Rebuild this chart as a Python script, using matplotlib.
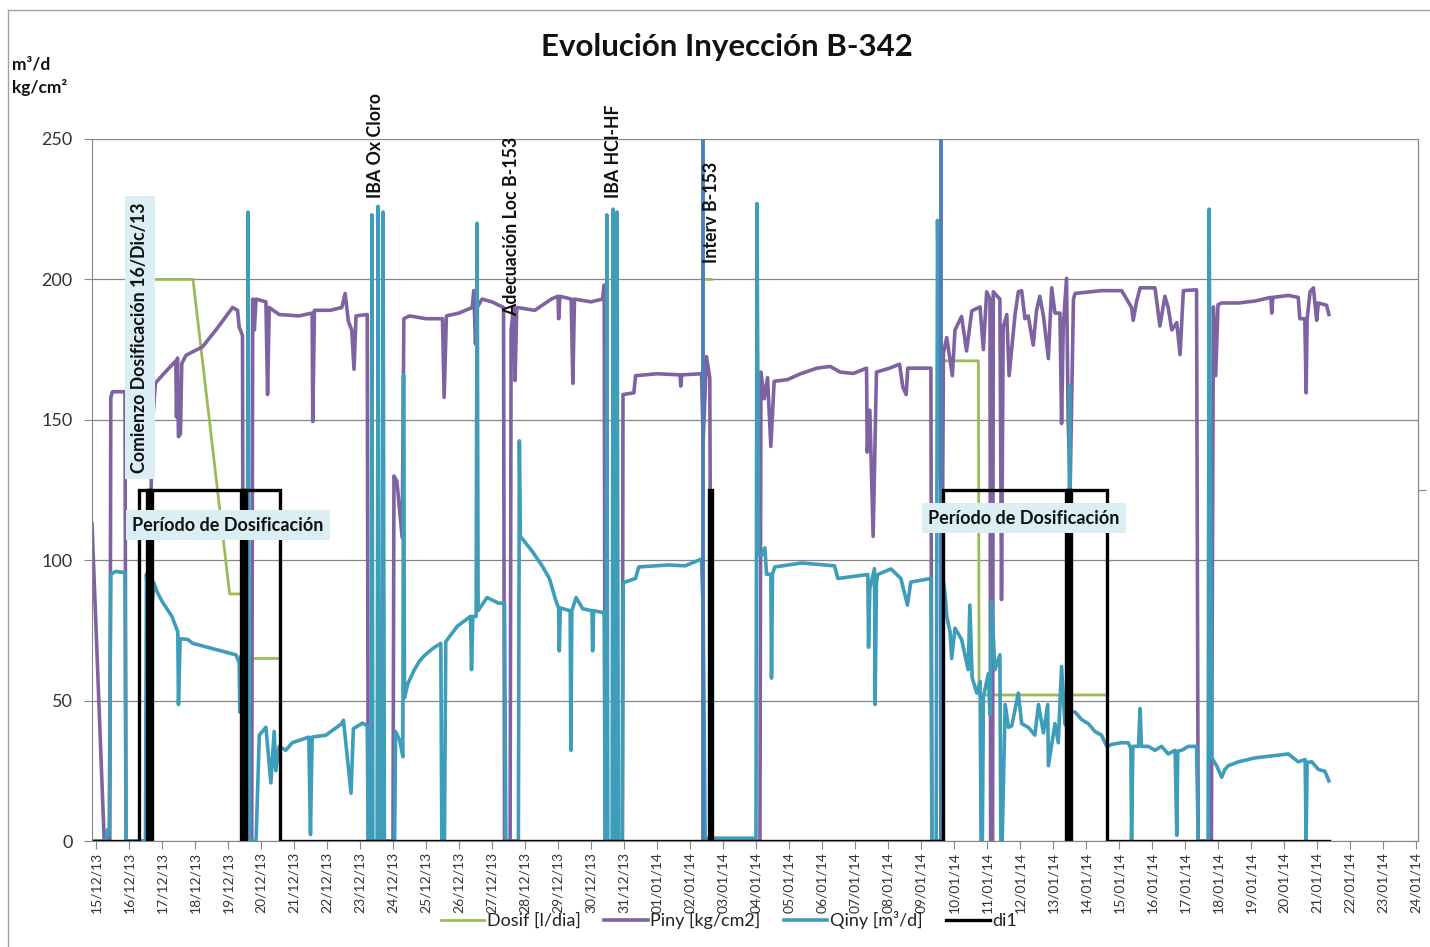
import numpy as np
import matplotlib.pyplot as plt
import matplotlib.dates as mdates
from matplotlib.lines import Line2D
from datetime import datetime

plt.rcParams['font.family'] = ['Lato', 'DejaVu Sans']

inicio = mdates.date2num(datetime(2013, 12, 15))

# series: (dias desde 15/12/13, valor)
dosif = [(1.35, 200), (2.94, 200), (4.05, 88), (4.45, 88), (4.6, 65), (5.58, 65), (5.6, None),
         (18.5, 200), (18.65, 200), (18.7, None),
         (25.65, 171), (26.74, 171), (26.76, 52), (30.63, 52)]

piny = [(-0.12, 113), (0.25, 0), (0.42, 0), (0.45, 158), (0.5, 160), (0.88, 160), (0.91, 0),
        (1.62, 0), (1.66, 120), (1.72, 150), (1.8, 163), (1.87, 164), (2.1, 167), (2.42, 171),
        (2.44, 151), (2.47, 172), (2.5, 144), (2.56, 145), (2.6, 170), (2.73, 173), (3.23, 176),
        (3.7, 183), (4.14, 190), (4.29, 189), (4.34, 183), (4.44, 180), (4.47, 0), (4.72, 0),
        (4.75, 193), (4.8, 182), (4.85, 193), (5.15, 192), (5.2, 159), (5.25, 190), (5.55, 187.5),
        (6.15, 187), (6.55, 188), (6.57, 149.4), (6.62, 189), (7.1, 189), (7.45, 190), (7.55, 195),
        (7.65, 185), (7.75, 182), (7.82, 168), (7.88, 187), (8.22, 187.5), (8.25, 0), (9.0, 0),
        (9.03, 130), (9.12, 128), (9.28, 108), (9.33, 186), (9.5, 187), (10.0, 186), (10.5, 186),
        (10.55, 158), (10.62, 187), (11.0, 188), (11.4, 190), (11.45, 196), (11.5, 177),
        (11.55, 190), (11.7, 193), (12.0, 192), (12.35, 190), (12.38, 0), (12.55, 0), (12.58, 182),
        (12.65, 190), (12.7, 164), (12.75, 190), (13.3, 189), (13.8, 193), (14.0, 194),
        (14.02, 186), (14.06, 194), (14.4, 193), (14.45, 163), (14.5, 193), (15.0, 192),
        (15.35, 193), (15.4, 198), (15.43, 0), (15.95, 0), (15.97, 159), (16.3, 159.6),
        (16.35, 165.7), (17.0, 166.4), (17.7, 166), (17.72, 162), (17.75, 166), (18.35, 166.4),
        (18.4, 142.5), (18.5, 172.5), (18.6, 165), (18.65, 0), (20.12, 0), (20.15, 167),
        (20.25, 157.5), (20.35, 165), (20.45, 140.5), (20.55, 163.7), (20.95, 164.3),
        (21.35, 166.4), (21.85, 168.4), (22.25, 169), (22.55, 167), (22.95, 166.5), (23.35, 168.4),
        (23.37, 138.5), (23.45, 153.4), (23.55, 108.5), (23.65, 167), (24.05, 168.4),
        (24.35, 169.8), (24.45, 161.6), (24.55, 159), (24.6, 168.4), (25.3, 168.4), (25.33, 0),
        (25.6, 0), (25.68, 173.9), (25.78, 179.3), (25.95, 165.7), (26.03, 182), (26.23, 186.8),
        (26.38, 174.5), (26.54, 188.8), (26.79, 190.2), (26.89, 175), (26.99, 195.6), (27.09, 193),
        (27.11, 0), (27.17, 0), (27.19, 195.6), (27.39, 193), (27.44, 86), (27.49, 183),
        (27.6, 187.5), (27.67, 165.7), (27.85, 187.5), (27.95, 195.6), (28.05, 196), (28.15, 186),
        (28.25, 187), (28.4, 176.6), (28.5, 188.8), (28.6, 194), (28.71, 187), (28.86, 171.8),
        (28.91, 185), (28.96, 197), (29.06, 188), (29.21, 188), (29.26, 148.7), (29.31, 183),
        (29.41, 200.4), (29.46, 149.4), (29.52, 126), (29.62, 193), (29.67, 195), (30.47, 196),
        (31.08, 196), (31.38, 190), (31.43, 185.4), (31.53, 192), (31.64, 197), (32.09, 197),
        (32.24, 183.4), (32.39, 194), (32.49, 190), (32.6, 182), (32.75, 184.6), (32.85, 173.2),
        (32.95, 196), (33.35, 196.3), (33.4, 0), (33.8, 0), (33.86, 190.2), (33.93, 165.7),
        (34.0, 191), (34.11, 191.6), (34.62, 191.6), (35.12, 192.3), (35.6, 193.6), (35.63, 188),
        (35.66, 193.6), (36.13, 194.3), (36.43, 193.6), (36.48, 186), (36.63, 186), (36.67, 159.6),
        (36.7, 186), (36.79, 195.6), (36.89, 197), (36.99, 185.4), (37.04, 191.6), (37.29, 190.8),
        (37.36, 187.5)]

qiny = [(-0.12, 0), (0.3, 0), (0.35, 4), (0.4, 2), (0.45, 95), (0.6, 96), (0.88, 95.6), (0.91, 0),
        (1.5, 0), (1.53, 95), (1.62, 70), (1.75, 92), (1.85, 88.8), (2.0, 85.4), (2.3, 80),
        (2.48, 74.5), (2.5, 48.6), (2.55, 72), (2.78, 71.8), (2.93, 70.4), (4.24, 66.3),
        (4.34, 63.6), (4.36, 45.9), (4.4, 66), (4.47, 60), (4.5, 0), (4.58, 0), (4.61, 224),
        (4.65, 0), (4.85, 0), (4.95, 37.7), (5.15, 40.5), (5.3, 20.7), (5.4, 39), (5.45, 25),
        (5.55, 33.7), (5.75, 32.3), (5.95, 35), (6.45, 37), (6.5, 2.3), (6.55, 37), (6.97, 37.7),
        (7.45, 41.8), (7.5, 43), (7.73, 17), (7.8, 40), (8.08, 42), (8.22, 41), (8.25, 0),
        (8.34, 0), (8.36, 223), (8.39, 0), (8.52, 0), (8.55, 226), (8.58, 0), (8.67, 0), (8.7, 224),
        (8.74, 0), (9.05, 0), (9.08, 39), (9.2, 36), (9.3, 30), (9.32, 166), (9.35, 51),
        (9.45, 56), (9.65, 61), (9.8, 64), (9.95, 66), (10.2, 68.5), (10.45, 70.4), (10.48, 0),
        (10.56, 0), (10.6, 71), (10.95, 76.5), (11.35, 80),
        (11.38, 61), (11.42, 80), (11.52, 80), (11.55, 220), (11.58, 82), (11.85, 86.7),
        (12.2, 84.7), (12.38, 84.7), (12.42, 0), (12.8, 0), (12.83, 142.5), (12.86, 108.5),
        (13.23, 103), (13.54, 97.6), (13.74, 93.5), (13.94, 85.4), (14.02, 83), (14.04, 67.7),
        (14.07, 83), (14.37, 82), (14.39, 32.3), (14.42, 82), (14.55, 86.7), (14.75, 82.7),
        (15.03, 82), (15.05, 67.7), (15.08, 82), (15.4, 81.3), (15.43, 0), (15.46, 0),
        (15.48, 223), (15.51, 0), (15.64, 0), (15.67, 225), (15.7, 0), (15.76, 0), (15.79, 224),
        (15.83, 0), (15.95, 0), (15.98, 92), (16.35, 93.5), (16.45, 97.6), (17.35, 98.3),
        (17.85, 98), (18.35, 100.4), (18.4, 81.3), (18.46, 1), (20.0, 1), (20.03, 227),
        (20.08, 101.7), (20.17, 101.7), (20.27, 104.4), (20.32, 95), (20.45, 95), (20.47, 58),
        (20.5, 95), (20.57, 97.6), (21.38, 99), (22.38, 98), (22.48, 93.5), (23.39, 94.9),
        (23.41, 69), (23.45, 90), (23.59, 97), (23.61, 48.6), (23.65, 92), (23.69, 94.9),
        (24.09, 96.9), (24.39, 93.5), (24.59, 84), (24.69, 92.2), (25.3, 93.5), (25.33, 0),
        (25.46, 0), (25.5, 221), (25.58, 140), (25.65, 95), (25.73, 88), (25.78, 80), (25.88, 74.5),
        (25.93, 65), (26.03, 75.8), (26.23, 71.8), (26.43, 61), (26.48, 84), (26.55, 58.2),
        (26.69, 52.7), (26.79, 56.8), (26.82, 0), (26.86, 0), (26.89, 51.3), (27.04, 59.6),
        (27.09, 45), (27.14, 85.4), (27.24, 61), (27.39, 66.3), (27.42, 0), (27.46, 0),
        (27.55, 48.6), (27.65, 40.5), (27.75, 41), (27.95, 52.7), (28.05, 41.8), (28.25, 40.5),
        (28.45, 37.7), (28.56, 48.6), (28.71, 38.5), (28.84, 48.6), (28.86, 26.8), (29.06, 41.8),
        (29.16, 35), (29.26, 62.2), (29.36, 41.8), (29.45, 40), (29.47, 0), (29.5, 162),
        (29.55, 46), (29.67, 45.9), (29.87, 43.2), (30.07, 41.8), (30.27, 39), (30.47, 37.7),
        (30.63, 33.7), (30.78, 34.4), (31.08, 35), (31.28, 35), (31.36, 33), (31.38, 0),
        (31.42, 33.7), (31.59, 33.7), (31.64, 47.2), (31.68, 33.7), (31.89, 33.7), (32.09, 32.3),
        (32.29, 33.7), (32.49, 31), (32.7, 32.3), (32.75, 2), (32.78, 32), (32.9, 32.3),
        (33.1, 33.7), (33.35, 33.7), (33.4, 0), (33.7, 0), (33.73, 225), (33.81, 29.6),
        (33.96, 26.8), (34.11, 22.7), (34.21, 25.5), (34.31, 26.8), (34.62, 28.2), (35.12, 29.6),
        (35.63, 30.3), (36.13, 31), (36.43, 28.2), (36.64, 29), (36.67, 0), (36.7, 28),
        (36.84, 28.2), (37.04, 25.5), (37.24, 24.8), (37.36, 21.4)]

di1 = [(-0.12, 0), (1.30, 0), (1.30, 125), (1.55, 125), (1.55, 0), (1.58, 0), (1.58, 125),
       (1.61, 125), (1.61, 0), (1.64, 0), (1.64, 125), (1.67, 125), (1.67, 0), (1.70, 0),
       (1.70, 125), (4.40, 125), (4.40, 0), (4.43, 0), (4.43, 125), (4.46, 125), (4.46, 0),
       (4.49, 0), (4.49, 125), (4.52, 125), (4.52, 0), (4.55, 0), (4.55, 125), (5.58, 125),
       (5.58, 0), (18.57, 0), (18.57, 125), (18.67, 125), (18.67, 0), (25.67, 0), (25.67, 125),
       (29.40, 125), (29.40, 0), (29.43, 0), (29.43, 125), (29.46, 125), (29.46, 0), (29.49, 0),
       (29.49, 125), (29.52, 125), (29.52, 0), (29.55, 0), (29.55, 125), (30.64, 125),
       (30.64, 0), (37.36, 0)]

# lineas verticales azules (dia)
marcas = [18.40, 25.60]

# anotaciones verticales: (texto, dia, valor base)
eventos = [("Comienzo Dosificación 16/Dic/13", 1.33, 131),
           ("IBA Ox Cloro", 8.48, 229),
           ("Adecuación Loc B-153", 12.6, 187),
           ("IBA HCl-HF", 15.67, 229),
           ("Interv B-153", 18.64, 206)]
periodos = [(4.0, 112.5), (28.12, 115)]


def xy(serie):
    arr = np.array([(d, np.nan if v is None else v) for d, v in serie], dtype=float)
    return inicio + arr[:, 0], arr[:, 1]


fig = plt.figure(figsize=(14.3, 9.47), dpi=100)
ax = fig.add_axes([92 / 1430, 1 - 841 / 947, 1326 / 1430, 702 / 947])

gris = '#868686'
lw = 2.6
x, y = xy(dosif)
ax.plot(x, y, color='#9BBB59', lw=2.0, label='Dosif [l/dia]', solid_joinstyle='round')
x, y = xy(piny)
ax.plot(x, y, color='#7F62A1', lw=lw, label='Piny [kg/cm2]', solid_joinstyle='round')
x, y = xy(qiny)
ax.plot(x, y, color='#3E9DB9', lw=lw, label='Qiny [m³/d]', solid_joinstyle='round')
for m in marcas:
    ax.plot([inicio + m, inicio + m], [0, 260], color='#4F7DBA', lw=2.8)
x, y = xy(di1)
ax.plot(x, y, color='black', lw=2.4, label='di1', solid_joinstyle='miter')

ax.set_xlim(inicio - 0.12, inicio + 40.06)
ax.set_ylim(0, 250)
ax.set_yticks(range(0, 251, 50))
ax.yaxis.grid(True, color=gris, lw=0.9)
ax.set_axisbelow(True)
ax.xaxis.set_major_locator(mdates.DayLocator())
ax.xaxis.set_major_formatter(mdates.DateFormatter('%d/%m/%y'))
ax.tick_params(axis='x', rotation=90, labelsize=10, length=6, color=gris, labelcolor='#333333', pad=2)
ax.tick_params(axis='y', labelsize=13, length=6, color=gris, labelcolor='#333333', pad=8)
ax.spines['top'].set_visible(False)
for s in ['left', 'bottom', 'right']:
    ax.spines[s].set_color(gris)

ax2 = ax.twinx()
ax2.set_ylim(0, 250)
ax2.set_yticks([125])
ax2.set_yticklabels([])
ax2.tick_params(axis='y', length=6, color=gris)
for s in ['top', 'left', 'bottom']:
    ax2.spines[s].set_visible(False)
ax2.spines['right'].set_color(gris)

caja = dict(boxstyle='square,pad=0.35', fc='#DAEEF3', ec='none')
for i, (txt, d, v) in enumerate(eventos):
    ax2.text(inicio + d, v, txt, rotation=90, ha='center', va='bottom', fontsize=12.8,
             fontweight='bold', color='#111111', bbox=caja if i == 0 else None, zorder=10)
for d, v in periodos:
    ax2.text(inicio + d, v, 'Período de Dosificación', ha='center', va='center', fontsize=13,
             fontweight='bold', color='#111111', bbox=caja, zorder=10)

fig.text(727 / 1430, 1 - 47 / 947, 'Evolución Inyección B-342', ha='center', va='center',
         fontsize=22.5, fontweight='bold', color='#111111')
fig.text(12 / 1430, 1 - 64 / 947, 'm³/d', ha='left', va='center', fontsize=12.5,
         fontweight='bold', color='#111111')
fig.text(12 / 1430, 1 - 88 / 947, 'kg/cm²', ha='left', va='center', fontsize=12.5,
         fontweight='bold', color='#111111')

fig.legend(*ax.get_legend_handles_labels(), loc='center', bbox_to_anchor=(729 / 1430, 1 - 920 / 947),
           ncol=4, frameon=False, fontsize=13, handlelength=2.4, handletextpad=0.15,
           columnspacing=1.3, labelcolor='#222222')

# borde del area del grafico
fig.add_artist(Line2D([8 / 1430, 8 / 1430], [0, 1 - 10 / 947], transform=fig.transFigure,
                      color='#a0a0a0', lw=1))
fig.add_artist(Line2D([8 / 1430, 1], [1 - 10 / 947, 1 - 10 / 947], transform=fig.transFigure,
                      color='#a0a0a0', lw=1))

fig.savefig('out.png', dpi=100)
